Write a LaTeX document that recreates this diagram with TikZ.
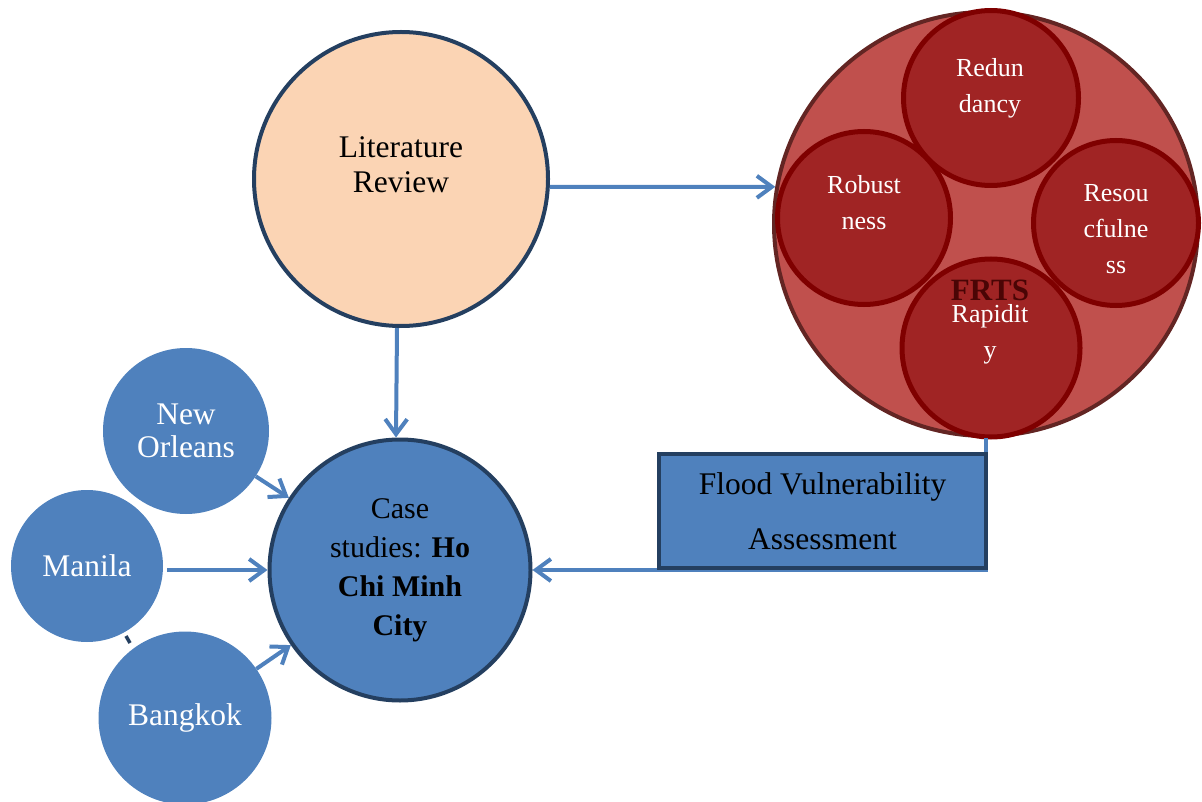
\documentclass[tikz,border=0pt]{standalone}
\usepackage{fontspec}
\setmainfont{Liberation Serif}
\usetikzlibrary{arrows.meta}

\definecolor{peach}{HTML}{FBD4B4}
\definecolor{navy}{HTML}{243F60}
\definecolor{steel}{HTML}{4F81BD}
\definecolor{brick}{HTML}{C0504D}
\definecolor{rimbrown}{HTML}{632523}
\definecolor{crimson}{HTML}{A02424}
\definecolor{maroonrim}{HTML}{7F0000}
\definecolor{frtsdark}{HTML}{4A0505}

\tikzset{
  disc/.style={circle, inner sep=0pt, align=center},
  flow/.style={draw=steel, line width=4pt, -{Straight Barb[length=15pt,width=22pt]}},
  bluedisc/.style={disc, fill=steel, text=white, font=\fontsize{31.5}{33}\selectfont},
  pillar/.style={disc, fill=crimson, draw=maroonrim, line width=5pt},
  pillartext/.style={align=center, text=white, inner sep=0pt, font=\fontsize{26}{36}\selectfont},
}

\begin{document}
\begin{tikzpicture}[x=1pt,y=-1pt]
\useasboundingbox (0,0) rectangle (1202,802);

% literature review
\node[disc, minimum size=294pt, fill=peach, draw=navy, line width=4pt] (lit) at (401,179) {};
\node[align=center, inner sep=0pt, font=\fontsize{31.5}{35}\selectfont] (littext) at (401,165) {Literature\\Review};

% FRTS: four resilience pillars inside one disc
\node[disc, minimum size=424pt, fill=brick, draw=rimbrown, line width=4pt] (frts) at (986,224) {};
\node[pillar, minimum size=175pt] (red) at (991,98) {};
\node[pillar, minimum size=173pt] (rob) at (864,218) {};
\node[pillar, minimum size=165pt] (res) at (1116,223) {};
\node[pillar, minimum size=178pt] (rap) at (991,348) {};
\node[pillartext] (redtext) at (990,88) {Redun\\dancy};
\node[pillartext] (robtext) at (864,203) {Robust\\ness};
\node[pillartext] (restext) at (1116,229) {Resou\\cfulne\\ss};
\node[font=\bfseries\fontsize{31}{31}\selectfont, text=frtsdark, inner sep=0pt] (frtstext) at (990,290) {FRTS};
\node[pillartext] (raptext) at (990,334) {Rapidit\\y};

% case study cities
\node[disc, minimum size=261pt, fill=steel, draw=navy, line width=4pt,
      font=\fontsize{30}{39}\selectfont] (case) at (400,570)
  {Case\\studies: \textbf{Ho}\\\textbf{Chi Minh}\\\textbf{City}};
\node[bluedisc, minimum size=166pt] (nola) at (186,431) {New\\Orleans};
\node[bluedisc, minimum size=152pt] (manila) at (87,566) {Manila};
\node[bluedisc, minimum size=173pt] (bkk) at (185,718) {Bangkok};

\coordinate (tickA) at (126,636);
\coordinate (tickB) at (130,643);
\draw[navy, line width=3.5pt] (tickA) -- (tickB);

% connectors
\draw[flow] (lit.-3) -- (frts.170);
\draw[flow] ([xshift=-4pt]lit.south) -- ([xshift=-4pt]case.north);
\draw[flow] (nola) -- (case);
\draw[flow, shorten <=4pt] (case.west -| manila.east) -- (case.west);
\draw[flow] (bkk) -- (case);
\draw[flow] (frts.south) |- (case.east);

% assessment box sits over the return connector
\node[draw=navy, fill=steel, line width=4pt, minimum width=327pt, minimum height=114pt,
      align=center, inner sep=0pt, font=\fontsize{31.5}{55}\selectfont] (fva) at (822.5,511)
  {Flood Vulnerability\\Assessment};
\end{tikzpicture}
\end{document}
